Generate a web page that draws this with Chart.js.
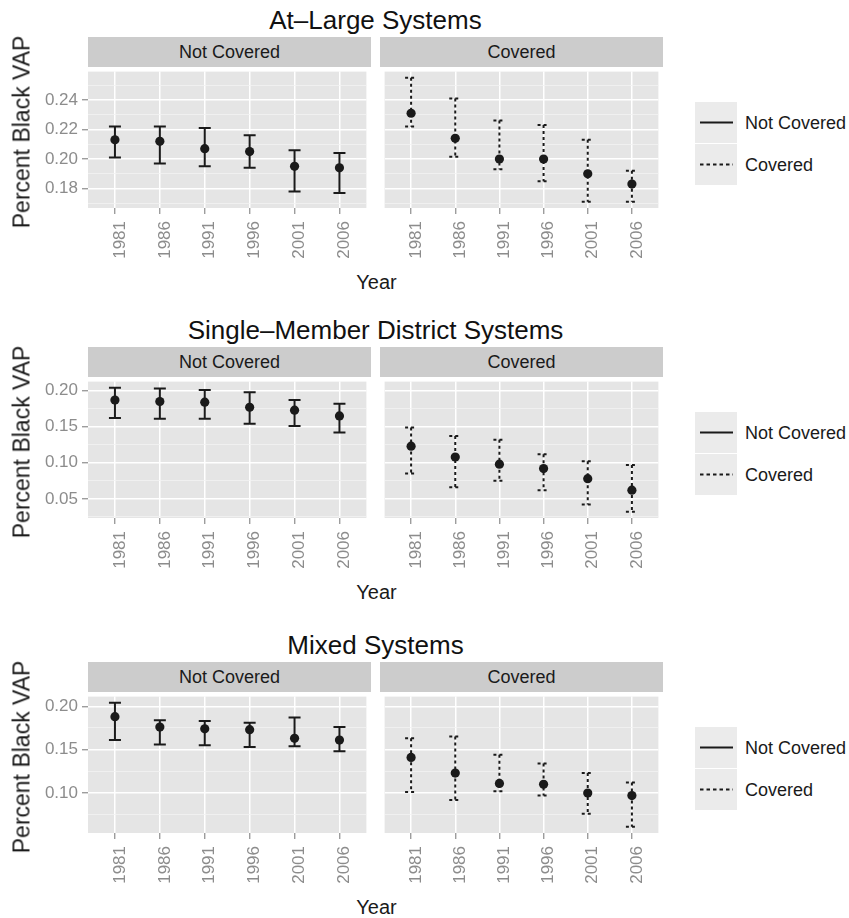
<!DOCTYPE html>
<html>
<head>
<meta charset="utf-8">
<script src="https://cdn.jsdelivr.net/npm/chart.js@4.4.1/dist/chart.umd.min.js"></script>
<style>
  html, body { margin: 0; padding: 0; background: #ffffff; }
  body { width: 849px; height: 918px; position: relative; overflow: hidden;
         font-family: "Liberation Sans", Arial, Helvetica, sans-serif; color: #1a1a1a; }
  canvas { position: absolute; }
  .t { position: absolute; white-space: nowrap; line-height: 1; }
  .center { transform: translate(-50%, -50%); }
  .title { font-size: 26px; color: #111111; }
  .strip { position: absolute; background: #cccccc; display: flex; align-items: center;
           justify-content: center; font-size: 18px; color: #1a1a1a; }
  .ylab { font-size: 23px; transform: translate(-50%, -50%) rotate(-90deg); }
  .xlab { font-size: 20px; }
  .key { position: absolute; width: 42px; height: 41px; background: #ebebeb; }
  .legtext { font-size: 18px; transform: translateY(-50%); }
</style>
</head>
<body>
<script>
// Survey years shared by every facet
const years = ['1981', '1986', '1991', '1996', '2001', '2006'];

// At-large systems: estimate, lower and upper bound of percent black VAP
const atLargeNotCoveredMean = [0.213, 0.212, 0.207, 0.205, 0.195, 0.194];
const atLargeNotCoveredLow  = [0.201, 0.197, 0.195, 0.194, 0.178, 0.177];
const atLargeNotCoveredHigh = [0.222, 0.222, 0.221, 0.216, 0.206, 0.204];
const atLargeCoveredMean    = [0.231, 0.214, 0.200, 0.200, 0.190, 0.183];
const atLargeCoveredLow     = [0.222, 0.2015, 0.193, 0.185, 0.171, 0.171];
const atLargeCoveredHigh    = [0.255, 0.241, 0.226, 0.223, 0.213, 0.192];

// Single-member district systems
const smdNotCoveredMean = [0.187, 0.185, 0.184, 0.177, 0.173, 0.165];
const smdNotCoveredLow  = [0.162, 0.161, 0.161, 0.154, 0.151, 0.142];
const smdNotCoveredHigh = [0.204, 0.203, 0.201, 0.198, 0.187, 0.182];
const smdCoveredMean    = [0.123, 0.108, 0.098, 0.092, 0.078, 0.062];
const smdCoveredLow     = [0.085, 0.066, 0.075, 0.062, 0.042, 0.032];
const smdCoveredHigh    = [0.149, 0.137, 0.132, 0.112, 0.102, 0.097];

// Mixed systems
const mixedNotCoveredMean = [0.188, 0.176, 0.174, 0.173, 0.163, 0.161];
const mixedNotCoveredLow  = [0.161, 0.156, 0.155, 0.153, 0.154, 0.148];
const mixedNotCoveredHigh = [0.204, 0.184, 0.183, 0.181, 0.187, 0.176];
const mixedCoveredMean    = [0.141, 0.123, 0.111, 0.110, 0.100, 0.097];
const mixedCoveredLow     = [0.101, 0.092, 0.102, 0.097, 0.076, 0.061];
const mixedCoveredHigh    = [0.163, 0.165, 0.144, 0.134, 0.123, 0.112];

// Major y tick values per panel row
const atLargeTicks = [0.18, 0.20, 0.22, 0.24];
const smdTicks     = [0.05, 0.10, 0.15, 0.20];
const mixedTicks   = [0.10, 0.15, 0.20];

const facetNames = ['Not Covered', 'Covered'];
const legendNames = ['Not Covered', 'Covered'];

// ---- layout and style ----
const FONT = '"Liberation Sans", Arial, Helvetica, sans-serif';
const INK = '#1a1a1a';
const TICK_INK = '#8c8c8c';
const PANEL_L = 88, PANEL_W = 283, GAP = 9;
const STRIP_H = 30, PANEL_H = 141, X_AXIS_H = 56;
const CAP = 6;

const rows = [
  { title: 'At\u2013Large Systems', top: 37, ticks: atLargeTicks,
    facets: [[atLargeNotCoveredMean, atLargeNotCoveredLow, atLargeNotCoveredHigh],
             [atLargeCoveredMean, atLargeCoveredLow, atLargeCoveredHigh]] },
  { title: 'Single\u2013Member District Systems', top: 347, ticks: smdTicks,
    facets: [[smdNotCoveredMean, smdNotCoveredLow, smdNotCoveredHigh],
             [smdCoveredMean, smdCoveredLow, smdCoveredHigh]] },
  { title: 'Mixed Systems', top: 662, ticks: mixedTicks,
    facets: [[mixedNotCoveredMean, mixedNotCoveredLow, mixedNotCoveredHigh],
             [mixedCoveredMean, mixedCoveredLow, mixedCoveredHigh]] }
];

// y range: full extent of the intervals, widened by 5% on each side
function rowLimits(row) {
  const all = row.facets.flatMap(f => [...f[1], ...f[2]]);
  const lo = Math.min(...all), hi = Math.max(...all);
  const pad = (hi - lo) * 0.05;
  return [lo - pad, hi + pad];
}

// minor grid lines halfway between the major ones
function minorTicks(major, min, max) {
  const step = major[1] - major[0];
  const out = [];
  for (let v = major[0] - step / 2; v <= max + 1e-9; v += step) {
    if (v >= min) out.push(v);
  }
  return out;
}

const panelBackground = {
  id: 'panelBackground',
  beforeDraw(chart) {
    const { ctx, chartArea: a } = chart;
    ctx.save();
    ctx.fillStyle = '#e5e5e5';
    ctx.fillRect(a.left, a.top, a.right - a.left, a.bottom - a.top);
    ctx.restore();
  }
};

const errorBars = {
  id: 'errorBars',
  beforeDatasetsDraw(chart) {
    const { ctx, scales: { x, y } } = chart;
    chart.data.datasets.forEach(ds => {
      ctx.save();
      ctx.strokeStyle = INK;
      ctx.lineWidth = 2;
      ctx.setLineDash(ds.dashed ? [3, 3] : []);
      ds.data.forEach((p, i) => {
        const px = x.getPixelForValue(p.x);
        const yl = y.getPixelForValue(ds.low[i]);
        const yh = y.getPixelForValue(ds.high[i]);
        ctx.beginPath();
        ctx.moveTo(px, yh); ctx.lineTo(px, yl);
        ctx.moveTo(px - CAP, yh); ctx.lineTo(px + CAP, yh);
        ctx.moveTo(px - CAP, yl); ctx.lineTo(px + CAP, yl);
        ctx.stroke();
      });
      ctx.restore();
    });
  }
};

function addText(cls, text, left, top, extraStyle) {
  const d = document.createElement('div');
  d.className = 't ' + cls;
  d.textContent = text;
  d.style.left = left + 'px';
  d.style.top = top + 'px';
  if (extraStyle) Object.assign(d.style, extraStyle);
  document.body.appendChild(d);
  return d;
}

function makeFacet(row, side, limits) {
  const [mean, low, high] = row.facets[side];
  const axisW = side === 0 ? PANEL_L : 0;
  const left = side === 0 ? 0 : PANEL_L + PANEL_W + GAP;
  const w = axisW + PANEL_W, h = PANEL_H + X_AXIS_H;
  const canvas = document.createElement('canvas');
  canvas.width = w; canvas.height = h;
  canvas.style.left = left + 'px';
  canvas.style.top = (row.top + STRIP_H) + 'px';
  canvas.style.width = w + 'px';
  canvas.style.height = h + 'px';
  document.body.appendChild(canvas);

  const [ymin, ymax] = limits;
  const minors = minorTicks(row.ticks, ymin, ymax);
  const isMinor = c => !!(c.tick && c.tick.minor);

  new Chart(canvas, {
    type: 'scatter',
    data: {
      datasets: [{
        data: mean.map((v, i) => ({ x: i + 1, y: v })),
        low, high, dashed: side === 1,
        pointRadius: 4.6, pointHoverRadius: 4.6,
        pointBackgroundColor: INK, pointBorderColor: INK, pointBorderWidth: 0
      }]
    },
    options: {
      responsive: false, animation: false, devicePixelRatio: 1, events: [],
      layout: { padding: 0 },
      plugins: { legend: { display: false }, tooltip: { enabled: false } },
      scales: {
        x: {
          type: 'linear', min: 0.4, max: 6.6,
          afterBuildTicks: s => { s.ticks = years.map((_, i) => ({ value: i + 1 })); },
          afterFit: s => { s.height = X_AXIS_H; s.paddingLeft = 0; s.paddingRight = 0; },
          ticks: {
            autoSkip: false, minRotation: 90, maxRotation: 90,
            color: TICK_INK, font: { family: FONT, size: 17 },
            padding: 7, labelOffset: 5,
            callback: (v, i) => years[i]
          },
          grid: { color: '#ffffff', lineWidth: 1.5, drawTicks: true, tickLength: 6,
                  tickColor: TICK_INK, tickWidth: 1.2 },
          border: { display: false }
        },
        y: {
          type: 'linear', min: ymin, max: ymax,
          afterBuildTicks: s => {
            s.ticks = [...row.ticks.map(v => ({ value: v })),
                       ...minors.map(v => ({ value: v, minor: true }))]
              .sort((a, b) => a.value - b.value);
          },
          afterFit: s => { s.width = axisW; s.paddingTop = 0; s.paddingBottom = 0; },
          ticks: {
            display: side === 0, autoSkip: false,
            color: TICK_INK, font: { family: FONT, size: 17 },
            padding: 4,
            callback: (v, i, t) => (t[i] && t[i].minor) ? '' : v.toFixed(2)
          },
          grid: {
            color: c => isMinor(c) ? '#f2f2f2' : '#ffffff',
            lineWidth: c => isMinor(c) ? 0.8 : 1.5,
            drawTicks: side === 0, tickLength: 6,
            tickColor: c => isMinor(c) ? 'rgba(0,0,0,0)' : TICK_INK,
            tickWidth: 1.2
          },
          border: { display: false }
        }
      }
    },
    plugins: [panelBackground, errorBars]
  });
}

function makeLegend(centerY) {
  const keyX = 695, textX = 745;
  legendNames.forEach((name, i) => {
    const keyTop = centerY - 42 + i * 42;
    const key = document.createElement('div');
    key.className = 'key';
    key.style.left = keyX + 'px';
    key.style.top = keyTop + 'px';
    const dash = i === 1 ? 'stroke-dasharray="3.5 3"' : '';
    key.innerHTML = '<svg width="42" height="41"><line x1="5" x2="38" y1="20.5" y2="20.5" stroke="' +
      INK + '" stroke-width="2" ' + dash + '/></svg>';
    document.body.appendChild(key);
    addText('legtext', name, textX, keyTop + 21);
  });
}

const panelsCenterX = PANEL_L + (2 * PANEL_W + GAP) / 2;

rows.forEach(row => {
  const limits = rowLimits(row);
  addText('title center', row.title, panelsCenterX, row.top - 17);
  [0, 1].forEach(side => {
    const sx = PANEL_L + side * (PANEL_W + GAP);
    const strip = document.createElement('div');
    strip.className = 'strip';
    strip.textContent = facetNames[side];
    Object.assign(strip.style, { left: sx + 'px', top: row.top + 'px',
                                 width: PANEL_W + 'px', height: STRIP_H + 'px' });
    document.body.appendChild(strip);
    makeFacet(row, side, limits);
  });
  addText('ylab', 'Percent Black VAP', 22, row.top + 95);
  addText('xlab center', 'Year', panelsCenterX + 1, row.top + 245);
  makeLegend(row.top + 107);
});
</script>
</body>
</html>
